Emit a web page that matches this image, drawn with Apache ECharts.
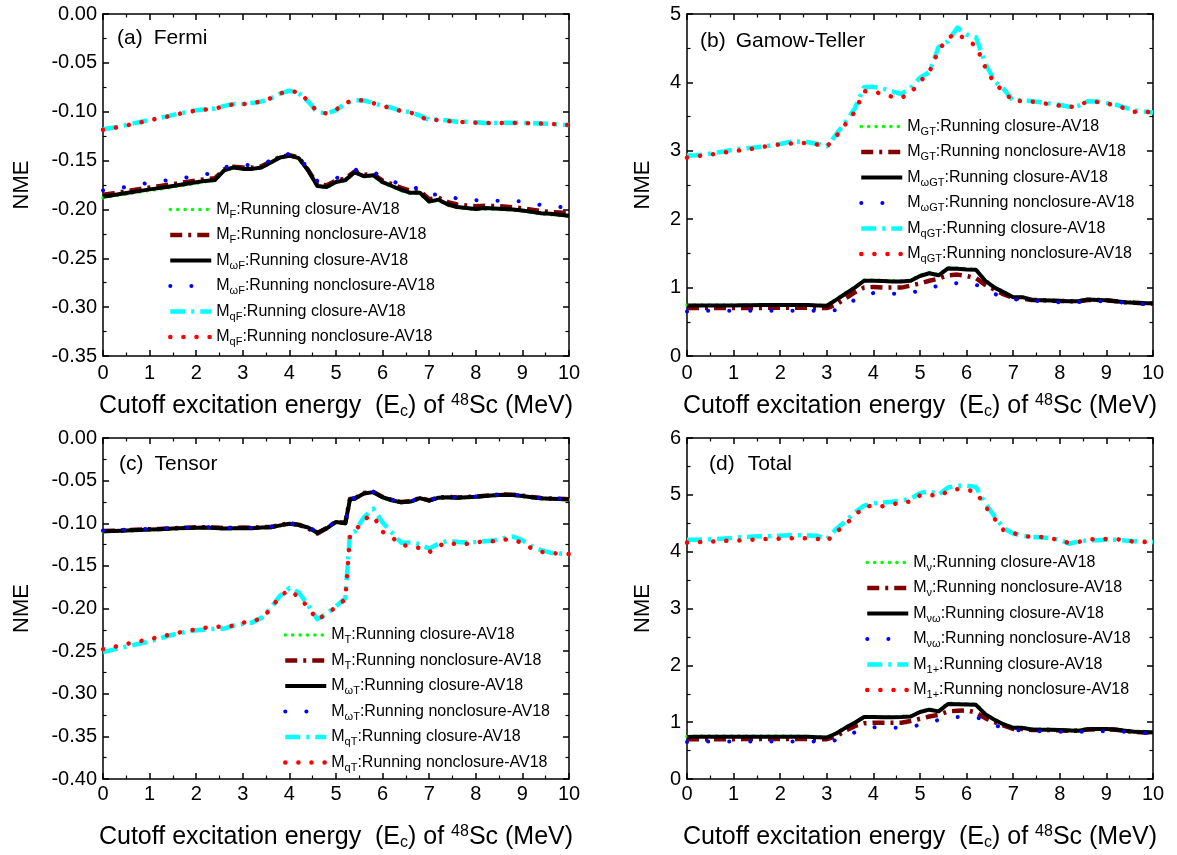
<!DOCTYPE html>
<html>
<head>
<meta charset="utf-8">
<title>Running NME vs cutoff excitation energy of 48Sc</title>
<script src="https://cdn.jsdelivr.net/npm/echarts@6/dist/echarts.min.js"></script>
<style>
  html, body { margin: 0; padding: 0; background: #fff; }
  #chart { width: 1177px; height: 855px; }
</style>
</head>
<body>
<div id="chart"></div>
<script>
// cutoff excitation energy Ec (MeV)
const energy = [0,0.2,0.4,0.6,0.8,1,1.2,1.4,1.6,1.8,2,2.2,2.4,2.6,2.8,3,3.2,3.4,3.6,3.8,4,4.2,4.4,4.6,4.8,5,5.2,5.4,5.6,5.8,6,6.2,6.4,6.6,6.8,7,7.2,7.4,7.6,7.8,8,8.2,8.4,8.6,8.8,9,9.2,9.4,9.6,9.8,10];
// tensor panel has one extra point at the jump (5.3)
const energyTensor = [0,0.2,0.4,0.6,0.8,1,1.2,1.4,1.6,1.8,2,2.2,2.4,2.6,2.8,3,3.2,3.4,3.6,3.8,4,4.2,4.4,4.6,4.8,5,5.2,5.3,5.4,5.6,5.8,6,6.2,6.4,6.6,6.8,7,7.2,7.4,7.6,7.8,8,8.2,8.4,8.6,8.8,9,9.2,9.4,9.6,9.8,10];

// (a) Fermi
const fermiClosure = [-0.1880,-0.1865,-0.1850,-0.1835,-0.1820,-0.1805,-0.1792,-0.1778,-0.1762,-0.1748,-0.1732,-0.1716,-0.1705,-0.1605,-0.1575,-0.1590,-0.1590,-0.1575,-0.1525,-0.1470,-0.1452,-0.1478,-0.1605,-0.1768,-0.1775,-0.1725,-0.1705,-0.1625,-0.1665,-0.1655,-0.1728,-0.1768,-0.1808,-0.1838,-0.1838,-0.1925,-0.1905,-0.1958,-0.1982,-0.1992,-0.2002,-0.1995,-0.1998,-0.2002,-0.2008,-0.2018,-0.2032,-0.2048,-0.2052,-0.2062,-0.2072];
const fermiNonclosure = [-0.1850,-0.1837,-0.1822,-0.1806,-0.1790,-0.1776,-0.1762,-0.1748,-0.1733,-0.1718,-0.1703,-0.1690,-0.1682,-0.1590,-0.1562,-0.1572,-0.1572,-0.1558,-0.1510,-0.1462,-0.1445,-0.1468,-0.1595,-0.1745,-0.1752,-0.1705,-0.1685,-0.1612,-0.1645,-0.1640,-0.1705,-0.1742,-0.1780,-0.1808,-0.1812,-0.1895,-0.1880,-0.1925,-0.1950,-0.1960,-0.1968,-0.1962,-0.1965,-0.1970,-0.1978,-0.1988,-0.2002,-0.2018,-0.2025,-0.2032,-0.2040];
const fermiOmegaClosure = [-0.1870,-0.1855,-0.1840,-0.1825,-0.1810,-0.1795,-0.1782,-0.1768,-0.1752,-0.1738,-0.1722,-0.1708,-0.1700,-0.1600,-0.1570,-0.1585,-0.1585,-0.1570,-0.1520,-0.1468,-0.1450,-0.1475,-0.1600,-0.1760,-0.1770,-0.1720,-0.1700,-0.1620,-0.1660,-0.1650,-0.1720,-0.1760,-0.1800,-0.1830,-0.1830,-0.1920,-0.1900,-0.1950,-0.1975,-0.1985,-0.1995,-0.1985,-0.1990,-0.1995,-0.2000,-0.2010,-0.2025,-0.2040,-0.2045,-0.2055,-0.2065];
const fermiOmegaNonclosure = [-0.1805,-0.1795,-0.1778,-0.1760,-0.1742,-0.1728,-0.1715,-0.1700,-0.1688,-0.1672,-0.1655,-0.1640,-0.1628,-0.1570,-0.1550,-0.1548,-0.1545,-0.1535,-0.1500,-0.1455,-0.1430,-0.1450,-0.1590,-0.1710,-0.1718,-0.1680,-0.1650,-0.1590,-0.1620,-0.1615,-0.1670,-0.1710,-0.1745,-0.1768,-0.1790,-0.1853,-0.1845,-0.1860,-0.1890,-0.1905,-0.1905,-0.1908,-0.1910,-0.1912,-0.1915,-0.1918,-0.1935,-0.1955,-0.1965,-0.1975,-0.1982];
const fermiQClosure = [-0.1180,-0.1165,-0.1148,-0.1125,-0.1105,-0.1085,-0.1065,-0.1045,-0.1022,-0.1005,-0.0985,-0.0975,-0.0968,-0.0940,-0.0922,-0.0920,-0.0910,-0.0895,-0.0865,-0.0815,-0.0785,-0.0810,-0.0895,-0.1005,-0.1015,-0.0985,-0.0915,-0.0882,-0.0885,-0.0910,-0.0940,-0.0960,-0.0992,-0.1005,-0.1040,-0.1085,-0.1080,-0.1090,-0.1102,-0.1102,-0.1108,-0.1115,-0.1115,-0.1113,-0.1113,-0.1115,-0.1118,-0.1120,-0.1125,-0.1130,-0.1137];
const fermiQNonclosure = [-0.1185,-0.1168,-0.1152,-0.1130,-0.1110,-0.1088,-0.1068,-0.1048,-0.1025,-0.1005,-0.0988,-0.0978,-0.0970,-0.0942,-0.0925,-0.0922,-0.0912,-0.0895,-0.0862,-0.0812,-0.0790,-0.0800,-0.0890,-0.1002,-0.1018,-0.0980,-0.0910,-0.0880,-0.0885,-0.0912,-0.0945,-0.0962,-0.0995,-0.1008,-0.1050,-0.1090,-0.1082,-0.1095,-0.1105,-0.1105,-0.1112,-0.1116,-0.1116,-0.1114,-0.1114,-0.1116,-0.1118,-0.1121,-0.1125,-0.1130,-0.1136];

// (b) Gamow-Teller
const gtClosure = [0.745,0.745,0.745,0.745,0.745,0.745,0.747,0.748,0.749,0.75,0.75,0.75,0.75,0.749,0.745,0.74,0.83,0.92,1.01,1.11,1.11,1.105,1.10,1.10,1.11,1.18,1.22,1.19,1.29,1.285,1.275,1.27,1.11,1.01,0.94,0.865,0.865,0.825,0.82,0.815,0.81,0.805,0.805,0.83,0.825,0.82,0.805,0.79,0.785,0.775,0.775];
const gtNonclosure = [0.70,0.70,0.70,0.70,0.70,0.70,0.70,0.702,0.703,0.704,0.705,0.705,0.705,0.704,0.70,0.70,0.75,0.84,0.93,1.00,1.01,1.00,1.00,1.00,1.03,1.06,1.10,1.13,1.18,1.19,1.17,1.14,1.04,0.97,0.90,0.85,0.84,0.82,0.815,0.81,0.805,0.80,0.80,0.82,0.82,0.815,0.80,0.785,0.78,0.77,0.765];
const gtOmegaClosure = [0.74,0.74,0.74,0.74,0.74,0.74,0.742,0.743,0.744,0.745,0.745,0.745,0.745,0.744,0.74,0.735,0.82,0.91,1.00,1.10,1.10,1.095,1.09,1.09,1.10,1.17,1.21,1.18,1.28,1.275,1.265,1.26,1.10,1.00,0.93,0.86,0.86,0.82,0.815,0.81,0.805,0.80,0.80,0.825,0.82,0.815,0.80,0.785,0.78,0.77,0.77];
const gtOmegaNonclosure = [0.65,0.655,0.66,0.66,0.66,0.66,0.66,0.66,0.66,0.66,0.66,0.66,0.66,0.66,0.66,0.665,0.67,0.75,0.82,0.88,0.92,0.915,0.91,0.915,0.93,0.95,0.99,1.03,1.055,1.065,1.07,1.04,1.00,0.91,0.85,0.83,0.82,0.81,0.80,0.795,0.785,0.785,0.79,0.795,0.80,0.80,0.79,0.78,0.77,0.76,0.76];
const gtQClosure = [2.93,2.935,2.95,2.97,2.99,3.02,3.035,3.045,3.06,3.08,3.10,3.13,3.135,3.125,3.10,3.065,3.24,3.42,3.62,3.93,3.935,3.91,3.87,3.83,3.92,4.07,4.15,4.52,4.60,4.80,4.70,4.66,4.28,4.02,3.90,3.73,3.745,3.725,3.71,3.69,3.67,3.645,3.66,3.725,3.72,3.70,3.675,3.63,3.59,3.575,3.56];
const gtQNonclosure = [2.90,2.92,2.935,2.955,2.975,2.995,3.01,3.03,3.055,3.075,3.095,3.105,3.115,3.115,3.09,3.06,3.21,3.39,3.57,3.87,3.865,3.83,3.79,3.775,3.845,4.01,4.15,4.47,4.65,4.72,4.61,4.54,4.22,3.98,3.87,3.72,3.732,3.72,3.70,3.68,3.66,3.635,3.665,3.72,3.715,3.69,3.665,3.62,3.57,3.575,3.56];

// (c) Tensor (on energyTensor)
const tensorClosure = [-0.1100,-0.1097,-0.1093,-0.1088,-0.1083,-0.1079,-0.1075,-0.1070,-0.1065,-0.1061,-0.1057,-0.1055,-0.1060,-0.1066,-0.1062,-0.1060,-0.1062,-0.1055,-0.1053,-0.1030,-0.1010,-0.1025,-0.1055,-0.1115,-0.1065,-0.0990,-0.1005,-0.0725,-0.0715,-0.0655,-0.0640,-0.0700,-0.0735,-0.0760,-0.0750,-0.0710,-0.0740,-0.0705,-0.0700,-0.0705,-0.0700,-0.0695,-0.0685,-0.0677,-0.0670,-0.0673,-0.0685,-0.0700,-0.0713,-0.0717,-0.0720,-0.0725];
const tensorNonclosure = [-0.1090,-0.1088,-0.1084,-0.1079,-0.1074,-0.1070,-0.1066,-0.1061,-0.1056,-0.1052,-0.1048,-0.1046,-0.1051,-0.1058,-0.1054,-0.1051,-0.1054,-0.1046,-0.1044,-0.1021,-0.1001,-0.1016,-0.1060,-0.1120,-0.1056,-0.0981,-0.0996,-0.0716,-0.0708,-0.0646,-0.0632,-0.0692,-0.0727,-0.0752,-0.0742,-0.0702,-0.0732,-0.0697,-0.0692,-0.0697,-0.0692,-0.0687,-0.0677,-0.0669,-0.0662,-0.0665,-0.0677,-0.0692,-0.0705,-0.0709,-0.0712,-0.0717];
const tensorOmegaClosure = [-0.1095,-0.1092,-0.1088,-0.1083,-0.1078,-0.1074,-0.1070,-0.1065,-0.1060,-0.1056,-0.1052,-0.1050,-0.1055,-0.1062,-0.1058,-0.1055,-0.1058,-0.1050,-0.1048,-0.1025,-0.1005,-0.1020,-0.1050,-0.1110,-0.1060,-0.0985,-0.1000,-0.0720,-0.0712,-0.0650,-0.0635,-0.0695,-0.0730,-0.0755,-0.0745,-0.0705,-0.0735,-0.0700,-0.0695,-0.0700,-0.0695,-0.0690,-0.0680,-0.0672,-0.0665,-0.0668,-0.0680,-0.0695,-0.0708,-0.0712,-0.0715,-0.0720];
const tensorOmegaNonclosure = [-0.1085,-0.1082,-0.1078,-0.1074,-0.1070,-0.1066,-0.1062,-0.1058,-0.1054,-0.1050,-0.1046,-0.1044,-0.1050,-0.1058,-0.1054,-0.1052,-0.1054,-0.1046,-0.1044,-0.1020,-0.1000,-0.1015,-0.1045,-0.1100,-0.1052,-0.0980,-0.0985,-0.0715,-0.0705,-0.0660,-0.0630,-0.0690,-0.0725,-0.0750,-0.0745,-0.0705,-0.0735,-0.0698,-0.0692,-0.0697,-0.0692,-0.0687,-0.0677,-0.0670,-0.0662,-0.0665,-0.0677,-0.0692,-0.0705,-0.0710,-0.0713,-0.0718];
const tensorQClosure = [-0.2510,-0.2485,-0.2460,-0.2435,-0.2410,-0.2385,-0.2355,-0.2320,-0.2295,-0.2270,-0.2255,-0.2245,-0.2240,-0.2235,-0.2200,-0.2180,-0.2165,-0.2110,-0.1995,-0.1850,-0.1760,-0.1810,-0.1960,-0.2125,-0.2060,-0.1975,-0.1880,-0.1120,-0.1100,-0.0930,-0.0830,-0.0990,-0.1110,-0.1230,-0.1225,-0.1245,-0.1300,-0.1240,-0.1205,-0.1220,-0.1225,-0.1220,-0.1210,-0.1200,-0.1175,-0.1155,-0.1200,-0.1270,-0.1315,-0.1345,-0.1355,-0.1360];
const tensorQNonclosure = [-0.2477,-0.2455,-0.2430,-0.2405,-0.2382,-0.2360,-0.2335,-0.2310,-0.2285,-0.2265,-0.2245,-0.2225,-0.2210,-0.2220,-0.2200,-0.2165,-0.2155,-0.2110,-0.2010,-0.1850,-0.1785,-0.1865,-0.1985,-0.2135,-0.2060,-0.1985,-0.1890,-0.1150,-0.1100,-0.0950,-0.0910,-0.1100,-0.1165,-0.1250,-0.1275,-0.1290,-0.1340,-0.1265,-0.1225,-0.1250,-0.1242,-0.1225,-0.1210,-0.1210,-0.1190,-0.1195,-0.1230,-0.1295,-0.1335,-0.1348,-0.1358,-0.1362];

// (d) Total
const totalClosure = [0.75,0.755,0.755,0.755,0.755,0.755,0.755,0.755,0.755,0.755,0.755,0.755,0.755,0.752,0.745,0.74,0.81,0.91,1.00,1.10,1.10,1.095,1.095,1.10,1.11,1.19,1.23,1.20,1.335,1.33,1.325,1.32,1.15,1.05,0.97,0.91,0.91,0.88,0.875,0.875,0.87,0.865,0.86,0.885,0.89,0.89,0.88,0.86,0.84,0.835,0.83];
const totalNonclosure = [0.70,0.70,0.70,0.70,0.70,0.70,0.702,0.703,0.704,0.705,0.705,0.705,0.705,0.704,0.70,0.70,0.75,0.85,0.93,0.98,0.99,0.99,0.99,0.99,1.02,1.06,1.10,1.13,1.19,1.20,1.21,1.17,1.07,1.00,0.94,0.88,0.88,0.86,0.86,0.86,0.855,0.85,0.85,0.87,0.875,0.875,0.865,0.845,0.83,0.82,0.815];
const totalOmegaClosure = [0.74,0.745,0.745,0.745,0.745,0.745,0.745,0.745,0.745,0.745,0.745,0.745,0.745,0.742,0.735,0.73,0.80,0.90,0.99,1.09,1.09,1.085,1.085,1.09,1.10,1.18,1.22,1.19,1.32,1.315,1.31,1.305,1.14,1.04,0.96,0.90,0.90,0.87,0.865,0.865,0.86,0.855,0.85,0.875,0.88,0.88,0.87,0.85,0.83,0.825,0.82];
const totalOmegaNonclosure = [0.65,0.655,0.66,0.66,0.66,0.66,0.66,0.66,0.66,0.66,0.66,0.66,0.66,0.66,0.66,0.665,0.68,0.76,0.82,0.87,0.91,0.905,0.90,0.905,0.92,0.95,0.99,1.04,1.08,1.09,1.10,1.08,1.05,0.95,0.89,0.86,0.855,0.845,0.84,0.835,0.83,0.83,0.83,0.835,0.84,0.84,0.835,0.83,0.82,0.81,0.81];
const totalOnePlusClosure = [4.21,4.21,4.215,4.22,4.23,4.245,4.255,4.265,4.27,4.275,4.28,4.29,4.29,4.285,4.28,4.22,4.40,4.53,4.69,4.81,4.85,4.865,4.88,4.90,4.93,5.03,5.07,5.00,5.13,5.16,5.16,5.14,4.85,4.62,4.41,4.32,4.28,4.26,4.25,4.235,4.21,4.14,4.18,4.20,4.20,4.21,4.21,4.195,4.185,4.18,4.17];
const totalOnePlusNonclosure = [4.16,4.165,4.175,4.18,4.19,4.195,4.20,4.21,4.22,4.225,4.23,4.235,4.24,4.235,4.225,4.18,4.34,4.48,4.63,4.79,4.81,4.80,4.83,4.87,4.88,4.99,5.00,4.98,5.06,5.10,5.09,5.05,4.80,4.58,4.37,4.33,4.28,4.26,4.26,4.235,4.20,4.15,4.17,4.215,4.22,4.225,4.225,4.195,4.175,4.17,4.175];

const FONT = '"Liberation Sans", Arial, sans-serif';

// Origin-like line styles, in drawing order
const styles = [
  { color: '#00ff00', width: 3.5, type: [0.1, 7.3], cap: 'round' },
  { color: '#800000', width: 4.5, type: [12, 6, 3, 6], cap: 'butt' },
  { color: '#000000', width: 4, type: 'solid', cap: 'butt' },
  { color: '#0000ff', width: 4, type: [0.1, 21], cap: 'round' },
  { color: '#00ffff', width: 4.5, type: [15, 6, 3, 6], cap: 'butt' },
  { color: '#ff0000', width: 4.5, type: [0.1, 13], cap: 'round' }
];

const panels = [
  { x: energy, sub: ['F', 'F', 'ωF', 'ωF', 'qF', 'qF'],
    ys: [fermiClosure, fermiNonclosure, fermiOmegaClosure, fermiOmegaNonclosure, fermiQClosure, fermiQNonclosure],
    min: -0.35, max: 0, interval: 0.05, dec: 2, label: '(a)', title: 'Fermi', tx: 117, ty: 27, tgap: 11,
    legendLeft: 168, legendTop: 201.5 },
  { x: energy, sub: ['GT', 'GT', 'ωGT', 'ωGT', 'qGT', 'qGT'],
    ys: [gtClosure, gtNonclosure, gtOmegaClosure, gtOmegaNonclosure, gtQClosure, gtQNonclosure],
    min: 0, max: 5, interval: 1, dec: 0, label: '(b)', title: 'Gamow-Teller', tx: 700, ty: 30.5, tgap: 10,
    legendLeft: 859, legendTop: 118.5 },
  { x: energyTensor, sub: ['T', 'T', 'ωT', 'ωT', 'qT', 'qT'],
    ys: [tensorClosure, tensorNonclosure, tensorOmegaClosure, tensorOmegaNonclosure, tensorQClosure, tensorQNonclosure],
    min: -0.4, max: 0, interval: 0.05, dec: 2, label: '(c)', title: 'Tensor', tx: 119, ty: 453, tgap: 11,
    legendLeft: 283, legendTop: 627 },
  { x: energy, sub: ['ν', 'ν', 'νω', 'νω', '1+', '1+'],
    ys: [totalClosure, totalNonclosure, totalOmegaClosure, totalOmegaNonclosure, totalOnePlusClosure, totalOnePlusNonclosure],
    min: 0, max: 6, interval: 1, dec: 0, label: '(d)', title: 'Total', tx: 709, ty: 453, tgap: 13,
    legendLeft: 865, legendTop: 554.5 }
];

const grids = [
  { left: 103, top: 14, width: 466, height: 342 },
  { left: 687, top: 14, width: 466, height: 342 },
  { left: 103, top: 438, width: 466, height: 341 },
  { left: 687, top: 438, width: 466, height: 341 }
];
const labelMargin = [7, 7, 5, 5];
const xNameGap = [37, 37, 45, 45];
const yNameGap = [70, 33, 70, 33];

const axisLine = { show: true, onZero: false, lineStyle: { color: '#000', width: 1.5 } };
const axisTick = { show: true, inside: true, length: 6, lineStyle: { color: '#000', width: 1.5 } };
const minorTick = { show: true, splitNumber: 2, length: 3.5, lineStyle: { color: '#000', width: 1.2 } };

const xAxis = [], yAxis = [], series = [], legend = [], title = [];

panels.forEach((p, i) => {
  // bottom axis with labels, top axis as a mirrored frame
  xAxis.push({
    type: 'value', gridIndex: i, position: 'bottom', min: 0, max: 10, interval: 1,
    axisLine, axisTick, minorTick, splitLine: { show: false },
    axisLabel: { color: '#000', fontSize: 20, fontFamily: FONT, margin: labelMargin[i] },
    name: 'Cutoff excitation energy  (E{sub|c}) of {sup|48}Sc (MeV)',
    nameLocation: 'middle', nameGap: xNameGap[i],
    nameTextStyle: {
      color: '#000', fontSize: 25, fontFamily: FONT,
      rich: {
        sub: { fontSize: 16, fontFamily: FONT, color: '#000', padding: [10, 0, 0, 0] },
        sup: { fontSize: 16, fontFamily: FONT, color: '#000', padding: [0, 0, 11, 0] }
      }
    }
  });
  yAxis.push({
    type: 'value', gridIndex: i, position: 'left', min: p.min, max: p.max, interval: p.interval,
    axisLine, axisTick, minorTick, splitLine: { show: false },
    axisLabel: { color: '#000', fontSize: 20, fontFamily: FONT, margin: 6,
      formatter: v => v.toFixed(p.dec) },
    name: 'NME', nameLocation: 'middle', nameRotate: 90, nameGap: yNameGap[i],
    nameTextStyle: { color: '#000', fontSize: 22, fontFamily: FONT }
  });

  p.ys.forEach((ys, k) => {
    const st = styles[k];
    series.push({
      name: p.label + k,
      type: 'line',
      xAxisIndex: i, yAxisIndex: i,
      data: p.x.map((e, j) => [e, ys[j]]),
      symbol: 'none',
      silent: true,
      animation: false,
      lineStyle: { color: st.color, width: st.width, type: st.type, cap: st.cap, join: 'round' },
      itemStyle: { color: st.color },
      emphasis: { disabled: true }
    });
  });

  const subs = p.sub;
  // a tiny, transparent item symbol leaves just the dashed line sample
  legend.push({
    orient: 'vertical', left: p.legendLeft, top: p.legendTop, padding: 0,
    itemWidth: 41, itemHeight: 2, itemGap: 7, selectedMode: false,
    itemStyle: { opacity: 0 },
    lineStyle: { width: 'inherit', type: 'inherit', cap: 'inherit' },
    data: p.ys.map((_, k) => p.label + k),
    formatter: name => {
      const k = +name.slice(3);
      return 'M{s|' + subs[k] + '}:Running ' + (k % 2 === 0 ? 'closure' : 'nonclosure') + '-AV18';
    },
    textStyle: {
      color: '#000', fontSize: 16, fontFamily: FONT,
      rich: { s: { fontSize: 11, fontFamily: FONT, color: '#000', padding: [10, 0, 0, 0] } }
    }
  });

  title.push({
    left: p.tx, top: p.ty, padding: 0,
    text: p.label + '{n|' + p.title + '}',
    textStyle: {
      color: '#000', fontSize: 21, fontWeight: 'normal', fontFamily: FONT, lineHeight: 22,
      rich: { n: { fontSize: 21, fontFamily: FONT, color: '#000', lineHeight: 22, padding: [0, 0, 0, p.tgap] } }
    }
  });
});

// mirrored top / right frame axes with inward ticks
panels.forEach((p, i) => {
  xAxis.push({
    type: 'value', gridIndex: i, position: 'top', min: 0, max: 10, interval: 1,
    axisLine, axisTick, minorTick, splitLine: { show: false }, axisLabel: { show: false }
  });
  yAxis.push({
    type: 'value', gridIndex: i, position: 'right', min: p.min, max: p.max, interval: p.interval,
    axisLine, axisTick, minorTick, splitLine: { show: false }, axisLabel: { show: false }
  });
});

const chart = echarts.init(document.getElementById('chart'), null, { renderer: 'canvas' });
chart.setOption({
  backgroundColor: '#ffffff',
  animation: false,
  title,
  legend,
  grid: grids.map(g => Object.assign({ outerBoundsMode: 'none', containLabel: false }, g)),
  xAxis,
  yAxis,
  series
});
</script>
</body>
</html>
